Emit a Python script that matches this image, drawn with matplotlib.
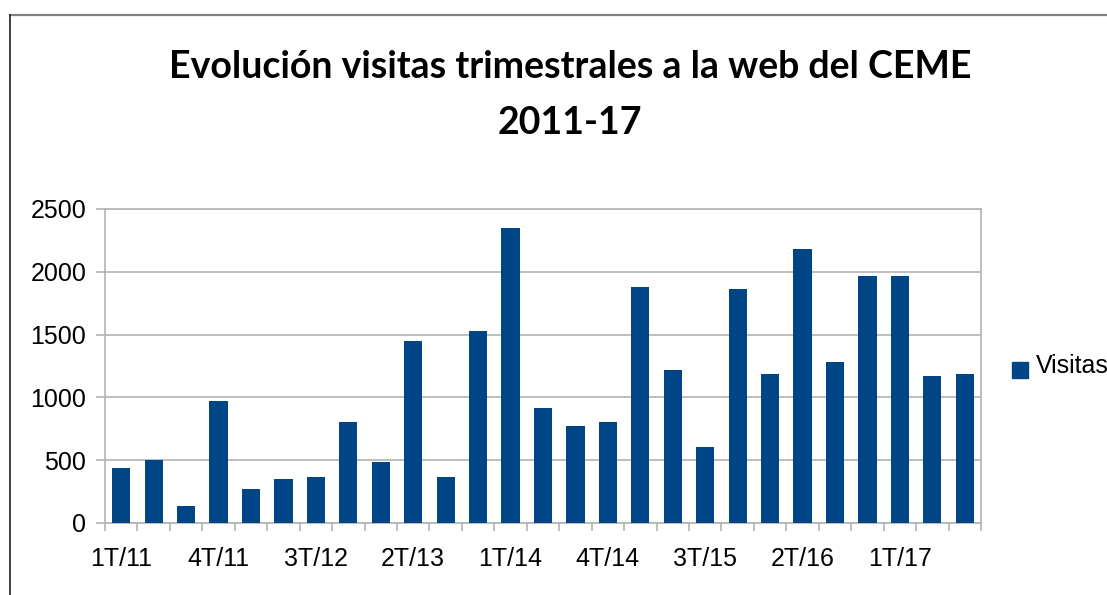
import matplotlib
matplotlib.use("Agg")
import matplotlib.pyplot as plt
from matplotlib.patches import Rectangle
from matplotlib.lines import Line2D
from matplotlib.ticker import FixedLocator, NullFormatter

categories = ["1T/11", "2T/11", "3T/11", "4T/11",
              "1T/12", "2T/12", "3T/12", "4T/12",
              "1T/13", "2T/13", "3T/13", "4T/13",
              "1T/14", "2T/14", "3T/14", "4T/14",
              "1T/15", "2T/15", "3T/15", "4T/15",
              "1T/16", "2T/16", "3T/16", "4T/16",
              "1T/17", "2T/17", "3T/17"]
visitas = [440, 502, 138, 973,
           273, 353, 368, 806,
           488, 1450, 368, 1530,
           2349, 917, 774, 806,
           1880, 1219, 607, 1864,
           1188, 2182, 1283, 1967,
           1967, 1172, 1188]
label_step = 3
yticks = [0, 500, 1000, 1500, 2000, 2500]
title = "Evolución visitas trimestrales a la web del CEME\n2011-17"
series_name = "Visitas"

BLUE = "#004586"
GRID = "#b3b3b3"
W, H = 1107, 595

fig = plt.figure(figsize=(W / 100, H / 100), dpi=100)
fig.patch.set_facecolor("white")

# outer chart border (top gray, left dark), extends beyond the image
fig.lines.append(Line2D([9.5 / W, 1.0], [1 - 14.5 / H] * 2, transform=fig.transFigure,
                        color="#808080", linewidth=1.6))
fig.lines.append(Line2D([9.5 / W] * 2, [0, 1 - 14.5 / H], transform=fig.transFigure,
                        color="#202020", linewidth=1.2))

ax = fig.add_axes([105 / W, 1 - 523 / H, (981 - 105) / W, (523 - 209) / H])
x = list(range(len(categories)))
ax.bar(x, visitas, width=0.56, color=BLUE, zorder=3)

ax.set_xlim(-0.5, len(categories) - 0.5)
ax.set_ylim(0, 2500)
ax.set_yticks(yticks)
ax.set_yticklabels([str(v) for v in yticks])
ax.yaxis.grid(True, color=GRID, linewidth=1.2, zorder=0)

major = x[::label_step]
ax.xaxis.set_major_locator(FixedLocator(major))
ax.set_xticklabels([categories[i] for i in major])
ax.xaxis.set_minor_locator(FixedLocator([i - 0.5 for i in range(len(categories) + 1)]))
ax.xaxis.set_minor_formatter(NullFormatter())
ax.tick_params(axis="x", which="major", length=0, pad=17)
ax.tick_params(axis="x", which="minor", length=6, color=GRID, width=1.2)
ax.tick_params(axis="y", length=6.5, color=GRID, width=1.2, pad=7)
for lab in ax.get_xticklabels() + ax.get_yticklabels():
    lab.set_fontfamily("Liberation Sans")
    lab.set_fontsize(18)
    lab.set_color("black")

for s in ["top", "right", "left", "bottom"]:
    ax.spines[s].set_color(GRID)
    ax.spines[s].set_linewidth(1.2)

fig.text(570 / W, 1 - 95 / H, title, ha="center", va="center",
         fontsize=27, fontweight="bold", family="Lato",
         linespacing=1.75, color="black")

# legend
fig.patches.append(Rectangle((1012 / W, 1 - 378 / H), 16 / W, 16 / H,
                             transform=fig.transFigure, color=BLUE))
fig.text(1036 / W, 1 - 366 / H, series_name, ha="left", va="center",
         fontsize=18, family="Liberation Sans", color="black")

fig.savefig("out.png", dpi=100, facecolor="white")
